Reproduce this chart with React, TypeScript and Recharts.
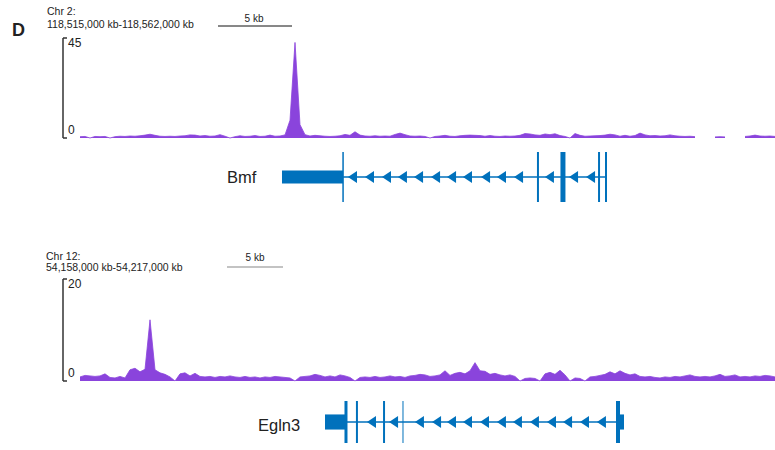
import { AreaChart, Area, XAxis, YAxis, ComposedChart, ReferenceArea, ReferenceLine, Scatter } from 'recharts';

const PURPLE = '#8a44dc';
const BLUE = '#0071bc';
const FONT = '"Liberation Sans", Arial, Helvetica, sans-serif';

// coverage, one value per 5px bin (null = no reads)
const COV_BMF: (number | null)[] = [
  0.6, 0.7, 0, 0.7, 0.6, 0.7, 0, 0.6, 0.8, 0.7,
  0.9, 0.8, 1.0, 1.3, 1.7, 1.2, 0.8, 0.7, 0.8, 0.7,
  0.9, 1.0, 1.4, 1.3, 0.9, 1.1, 0.8, 0.9, 1.5, 0.8,
  0, 0.6, 1.0, 0.7, 0.8, 1.1, 0.7, 0.8, 1.3, 0.8,
  0.9, 1.4, 8, 43, 6, 1.5, 0.9, 1.2, 1.0, 0.8,
  0.7, 0.8, 1.0, 1.6, 1.2, 2.8, 1.3, 0.9, 0.8, 1.0,
  0.8, 0.9, 0.8, 1.6, 2.2, 1.5, 0.9, 0.8, 0.9, 0.7,
  0, 0.7, 0.9, 1.2, 0.8, 0.7, 1.0, 1.2, 1.3, 1.2,
  1.1, 0.8, 1.1, 0.8, 0.7, 0.9, 0.8, 0.9, 1.2, 2.0,
  1.8, 1.4, 1.2, 1.8, 1.5, 1.9, 1.1, 0.7, 0, 2.0,
  1.2, 0.8, 0.9, 1.0, 1.1, 1.3, 1.7, 1.4, 0.8, 1.2,
  0.8, 1.1, 2.2, 1.4, 1.0, 1.1, 0.9, 1.0, 1.4, 1.0,
  0.8, 0.7, 0.8, 0.6, null, null, null, 0.5, 0.6, 0.5,
  null, null, null, 0.7, 0.9, 1.3, 0.9, 0.8, 0.9, 0.7,
];

const COV_EGLN3: (number | null)[] = [
  0.8, 1.1, 1.0, 0.9, 1.0, 1.4, 0.7, 0.6, 0.9, 0.6,
  2.2, 2.5, 1.8, 2.3, 12.0, 2.2, 1.6, 1.3, 0.8, 0,
  1.4, 1.6, 1.0, 1.5, 0.9, 0.8, 0.9, 0.7, 0.9, 0.8,
  1.0, 0.8, 0.7, 0.9, 0.7, 0.8, 0.6, 0.8, 0.7, 0.9,
  0.8, 0.7, 0.6, 0, 0.8, 0.9, 1.0, 1.3, 1.1, 0.8,
  1.0, 0.8, 1.2, 1.0, 0.7, 0, 0.7, 0.8, 0.7, 0.9,
  0.7, 0.8, 1.0, 0.8, 0.9, 0.7, 1.0, 1.1, 1.3, 1.2,
  0.9, 1.0, 1.2, 2.0, 1.1, 1.5, 1.7, 1.4, 2.0, 3.6,
  2.0, 1.9, 1.3, 1.5, 1.2, 1.0, 1.2, 0.9, 0, 0.5,
  0.6, 0.5, 0, 1.4, 1.7, 1.3, 2.1, 1.2, 0, 0.6,
  0.5, 0, 0.8, 0.9, 1.1, 1.3, 1.8, 1.4, 2.0, 1.5,
  1.2, 1.4, 0.9, 0.8, 0.9, 0.7, 0.6, 0.8, 0.7, 0.9,
  0.8, 1.0, 1.2, 0.9, 0.8, 0.9, 0.8, 1.0, 1.3, 0.9,
  1.0, 1.2, 0.8, 0.9, 0.8, 1.0, 0.9, 1.1, 1.0, 0.8,
];

// gene models, positions in kb from the start of the window
const BMF_SPAN = 47;
const BMF_BLOCKS = [{ x1: 13.66, x2: 17.79 }];
const BMF_INTRON = [17.79, 35.57];
const BMF_EXONS = [
  { x: 17.79, w: 1.5 },
  { x: 30.97, w: 2 },
  { x: 32.66, w: 5 },
  { x: 35.1, w: 2 },
  { x: 35.57, w: 2 },
];
const BMF_ARROWS = [18.46, 19.61, 20.76, 21.84, 22.93, 24.08, 25.16, 26.24, 27.46, 28.54, 29.69, 31.78, 33.41, 34.56];

const EGLN3_SPAN = 59;
const EGLN3_BLOCKS = [{ x1: 20.8, x2: 22.5 }, { x1: 45.67, x2: 46.18 }];
const EGLN3_INTRON = [22.5, 46.0];
const EGLN3_EXONS = [
  { x: 22.58, w: 3 },
  { x: 23.51, w: 2 },
  { x: 25.81, w: 2 },
  { x: 27.42, w: 1 },
  { x: 45.67, w: 4 },
];
const EGLN3_ARROWS = [24.79, 26.66, 28.86, 30.31, 31.58, 32.94, 34.38, 35.82, 37.18, 38.62, 40.07, 41.43, 42.87, 44.31];

const BracketTick = (props: any) => {
  const { x, y, payload } = props;
  const top = payload.value !== 0;
  return (
    <text x={x} y={top ? y + 9 : y - 4} textAnchor="start" fontSize={12} fill="#222" fontFamily={FONT}>
      {payload.value}
    </text>
  );
};

const Coverage = ({ values, max, top, marginTop, marginBottom }: any) => {
  const data = values.map((v: number | null, i: number) => ({ i, v }));
  return (
    <div style={{ position: 'absolute', left: 0, top }}>
      <AreaChart width={775} height={150} data={data} margin={{ top: marginTop, right: 0, bottom: marginBottom, left: 63 }}>
        <XAxis type="number" dataKey="i" domain={[0, values.length - 1]} hide padding={{ left: 17, right: 0 }} />
        <YAxis
          mirror
          domain={[0, max]}
          ticks={[0, max]}
          interval={0}
          tickSize={4}
          tickMargin={1}
          axisLine={{ stroke: '#333', strokeWidth: 1.5 }}
          tickLine={{ stroke: '#333', strokeWidth: 1.5 }}
          tick={<BracketTick />}
        />
        <Area
          type="linear"
          dataKey="v"
          stroke={PURPLE}
          strokeWidth={0.8}
          fill={PURPLE}
          fillOpacity={1}
          isAnimationActive={false}
          dot={false}
          activeDot={false}
        />
      </AreaChart>
    </div>
  );
};

const Arrow = (props: any) => {
  const { cx, cy } = props;
  return <polygon points={`${cx - 5},${cy} ${cx + 4},${cy - 6} ${cx + 4},${cy + 6}`} fill={BLUE} />;
};

const Gene = ({ span, blocks, intron, exons, arrows, top, height, marginTop, marginBottom, half }: any) => {
  const arrowData = arrows.map((x: number) => ({ x, y: 0 }));
  return (
    <div style={{ position: 'absolute', left: 0, top }}>
      <ComposedChart width={775} height={height} margin={{ top: marginTop, right: 0, bottom: marginBottom, left: 80 }}>
        <XAxis type="number" dataKey="x" domain={[0, span]} hide />
        <YAxis type="number" dataKey="y" domain={[-1, 1]} hide />
        <ReferenceLine
          segment={[{ x: intron[0], y: 0 }, { x: intron[1], y: 0 }]}
          stroke={BLUE}
          strokeWidth={1.3}
        />
        {blocks.map((b: any, k: number) => (
          <ReferenceArea key={k} x1={b.x1} x2={b.x2} y1={-half} y2={half} fill={BLUE} fillOpacity={1} stroke="none" />
        ))}
        {exons.map((e: any, k: number) => (
          <ReferenceLine key={k} x={e.x} stroke={BLUE} strokeWidth={e.w} />
        ))}
        <Scatter data={arrowData} shape={<Arrow />} isAnimationActive={false} />
      </ComposedChart>
    </div>
  );
};

export default function App() {
  const txt = { fontFamily: FONT, fill: '#222' };
  return (
    <div style={{ position: 'absolute', left: 0, top: 0, width: 775, height: 450, background: '#fff', overflow: 'hidden' }}>
      <Coverage values={COV_BMF} max={45} top={0} marginTop={38} marginBottom={12} />
      <Gene
        span={BMF_SPAN}
        blocks={BMF_BLOCKS}
        intron={BMF_INTRON}
        exons={BMF_EXONS}
        arrows={BMF_ARROWS}
        top={140}
        height={70}
        marginTop={12}
        marginBottom={8}
        half={0.26}
      />
      <Coverage values={COV_EGLN3} max={20} top={240} marginTop={39} marginBottom={9} />
      <Gene
        span={EGLN3_SPAN}
        blocks={EGLN3_BLOCKS}
        intron={EGLN3_INTRON}
        exons={EGLN3_EXONS}
        arrows={EGLN3_ARROWS}
        top={390}
        height={60}
        marginTop={11}
        marginBottom={7}
        half={0.36}
      />
      <svg width={775} height={450} style={{ position: 'absolute', left: 0, top: 0, pointerEvents: 'none' }}>
        <text x={12} y={36} fontSize={18} fontWeight="bold" {...txt}>D</text>
        <text x={47} y={15} fontSize={10.5} {...txt}>Chr 2:</text>
        <text x={47} y={28} fontSize={10.5} {...txt}>118,515,000 kb-118,562,000 kb</text>
        <text x={254} y={21.5} fontSize={10} textAnchor="middle" {...txt}>5 kb</text>
        <line x1={218} x2={292} y1={26} y2={26} stroke="#111" strokeWidth={1} />
        <text x={227} y={183} fontSize={16.5} {...txt}>Bmf</text>

        <text x={46} y={260} fontSize={10.5} {...txt}>Chr 12:</text>
        <text x={46} y={270.5} fontSize={10.5} {...txt}>54,158,000 kb-54,217,000 kb</text>
        <text x={255} y={260.5} fontSize={10} textAnchor="middle" {...txt}>5 kb</text>
        <line x1={227} x2={283} y1={267} y2={267} stroke="#888" strokeWidth={1.2} />
        <text x={258} y={431} fontSize={16.5} {...txt}>Egln3</text>
      </svg>
    </div>
  );
}
